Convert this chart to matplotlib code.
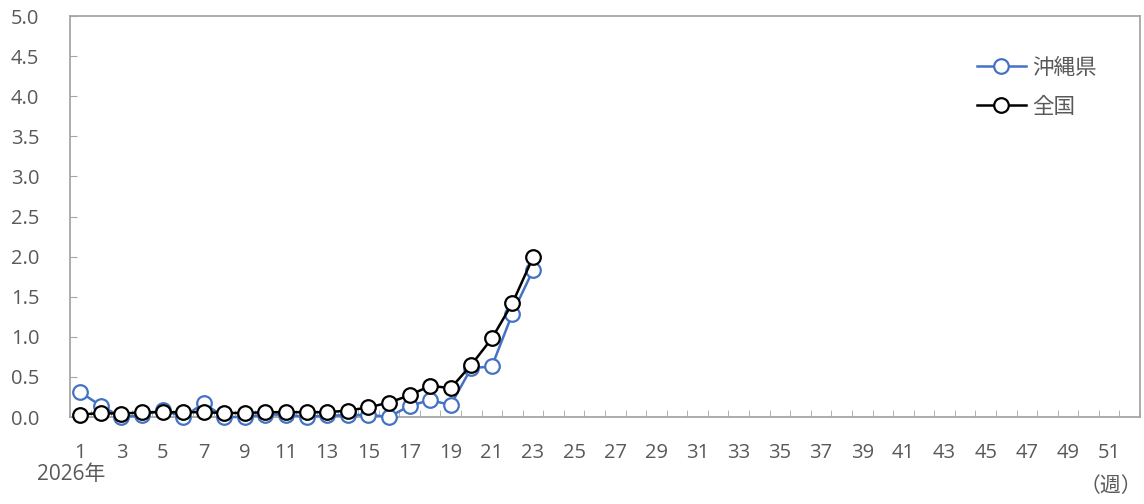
import matplotlib.pyplot as plt
import numpy as np

plt.rcParams['font.family'] = ['Open Sans', 'Noto Sans CJK JP', 'DejaVu Sans']

weeks = list(range(1, 24))
okinawa = [0.31, 0.14, 0.00, 0.02, 0.09, 0.00, 0.17, 0.00, 0.00, 0.03, 0.03, 0.00,
           0.02, 0.02, 0.03, 0.00, 0.14, 0.21, 0.15, 0.61, 0.63, 1.29, 1.83]
zenkoku = [0.03, 0.05, 0.04, 0.06, 0.06, 0.06, 0.06, 0.05, 0.05, 0.06, 0.06, 0.06,
           0.06, 0.08, 0.12, 0.18, 0.27, 0.39, 0.36, 0.65, 0.98, 1.42, 1.99]
xticks = list(range(1, 53, 2))
yticks = np.arange(0, 5.01, 0.5)

gray = '#595959'
edge = '#a6a6a6'
fs = 14.5

fig = plt.figure(figsize=(11.44, 5.04), dpi=100)
ax = fig.add_axes([0.0612, 0.1726, 0.9353, 0.7954])

ax.plot(weeks, okinawa, color='#4472c4', lw=1.8, marker='o', ms=10.5,
        mfc='white', mec='#4472c4', mew=1.6, label='沖縄県', clip_on=False, zorder=3)
ax.plot(weeks, zenkoku, color='black', lw=1.8, marker='o', ms=10.5,
        mfc='white', mec='black', mew=1.6, label='全国', clip_on=False, zorder=4)

ax.set_xlim(0.5, 52.5)
ax.set_ylim(0, 5)
ax.set_yticks(yticks)
ax.set_yticklabels(['%.1f' % v for v in yticks])
ax.set_xticks(xticks)
ax.set_xticks(np.arange(0.5, 53, 1), minor=True)

for s in ax.spines.values():
    s.set_color(edge)
    s.set_linewidth(1.3)

ax.tick_params(axis='y', direction='in', length=5, color=edge, labelsize=fs,
               labelcolor=gray, pad=22)
ax.tick_params(axis='x', which='major', length=0, labelsize=fs,
               labelcolor=gray, pad=19)
ax.tick_params(axis='x', which='minor', direction='in', length=5, color=edge)

fig.text(37 / 1144, 1 - 475 / 504, '2026年', fontsize=15, color=gray, va='center')
fig.text(1142 / 1144, 1 - 487 / 504, '（週）', fontsize=15, color=gray,
         va='center', ha='right')

leg = ax.legend(loc='upper right', bbox_to_anchor=(0.978, 0.945), frameon=False,
                fontsize=15.5, labelcolor=gray, handlelength=2.3, labelspacing=0.85,
                handletextpad=0.3)

fig.savefig('out.png', dpi=100)
